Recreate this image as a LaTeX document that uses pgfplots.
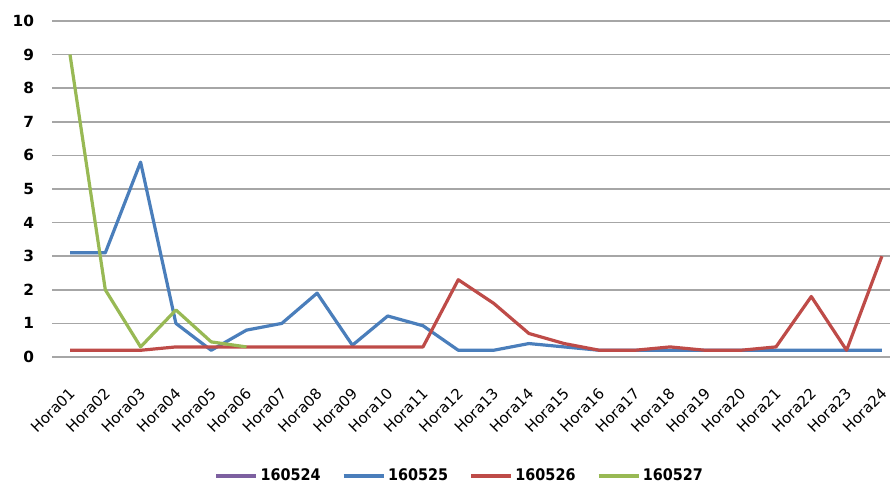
\documentclass[border=0pt]{standalone}
\usepackage{pgfplots}
\pgfplotsset{compat=1.18}
\usepackage{fontspec}
\setmainfont{DejaVu Sans}
\newfontfamily\condfont{DejaVu Sans Condensed}

\definecolor{serA}{HTML}{7D60A0}
\definecolor{serB}{HTML}{4A7EBB}
\definecolor{serC}{HTML}{BE4B48}
\definecolor{serD}{HTML}{98B954}
\definecolor{gridc}{HTML}{A6A6A6}

\begin{document}
\begin{tikzpicture}
\useasboundingbox (0,0) rectangle (667.5pt,363.75pt);
\begin{axis}[
  at={(39pt,96pt)}, anchor=south west,
  scale only axis, width=628.5pt, height=252pt,
  xmin=0.49, xmax=24.23, ymin=0, ymax=10,
  axis line style={draw=none},
  ytick={0,1,...,10},
  xtick={1,...,24},
  xticklabels={Hora01,Hora02,Hora03,Hora04,Hora05,Hora06,Hora07,Hora08,Hora09,Hora10,Hora11,Hora12,Hora13,Hora14,Hora15,Hora16,Hora17,Hora18,Hora19,Hora20,Hora21,Hora22,Hora23,Hora24},
  major tick length=0pt,
  ymajorgrids, major grid style={gridc, line width=1.2pt},
  /pgf/number format/assume math mode=true,
  yticklabel style={font=\fontsize{11.5}{12}\selectfont\bfseries, xshift=-10pt},
  xticklabel style={yshift=-23pt, xshift=4pt, rotate=45, anchor=east, font=\fontsize{11.2}{12}\selectfont},
  legend columns=4,
  legend style={at={(0.487,-0.354)}, anchor=center, draw=none, fill=none,
    font=\condfont\bfseries\fontsize{12}{13}\selectfont,
    /tikz/every even column/.append style={column sep=14pt}},
  legend image code/.code={\draw[line width=2.5pt] (0pt,0pt) -- (30pt,0pt);},
  every axis plot/.append style={line width=2.4pt, line join=round},
  clip=false,
]
\addlegendimage{serA}
\addlegendentry{160524}
\addplot[serB] coordinates {
 (1,3.1) (2,3.1) (3,5.8) (4,1.0) (5,0.2) (6,0.8) (7,1.0) (8,1.9) (9,0.35) (10,1.22)
 (11,0.93) (12,0.2) (13,0.2) (14,0.4) (15,0.3) (16,0.2) (17,0.2) (18,0.2) (19,0.2)
 (20,0.2) (21,0.2) (22,0.2) (23,0.2) (24,0.2)};
\addlegendentry{160525}
\addplot[serC] coordinates {
 (1,0.2) (2,0.2) (3,0.2) (4,0.3) (5,0.3) (6,0.3) (7,0.3) (8,0.3) (9,0.3) (10,0.3)
 (11,0.3) (12,2.3) (13,1.6) (14,0.7) (15,0.4) (16,0.2) (17,0.2) (18,0.3) (19,0.2)
 (20,0.2) (21,0.3) (22,1.8) (23,0.2) (24,3.0)};
\addlegendentry{160526}
\addplot[serD] coordinates {
 (1,9.0) (2,2.0) (3,0.3) (4,1.4) (5,0.45) (6,0.3)};
\addlegendentry{160527}
\end{axis}
\end{tikzpicture}
\end{document}
